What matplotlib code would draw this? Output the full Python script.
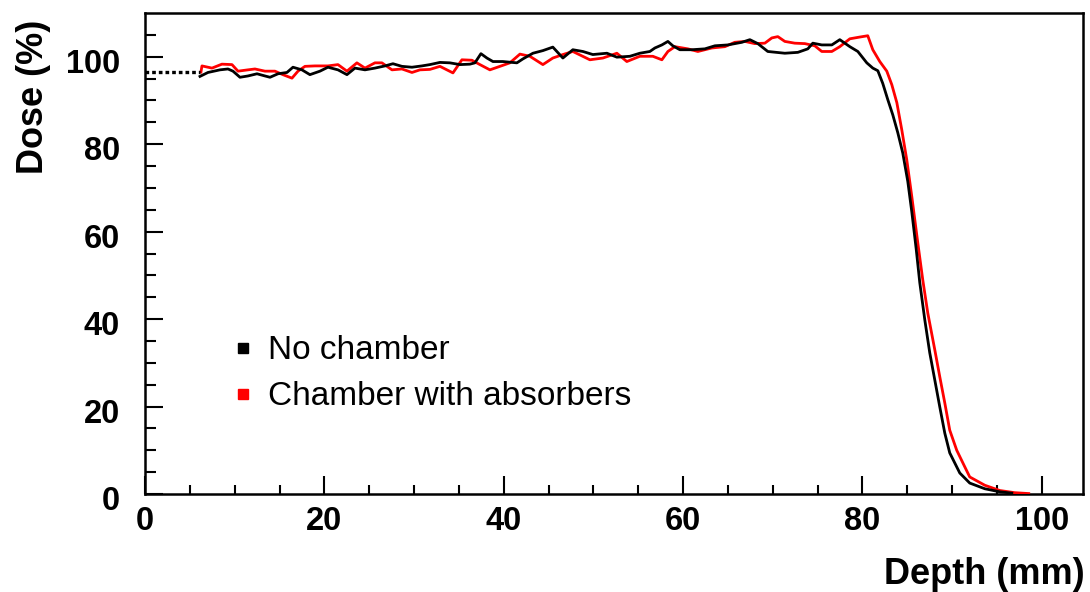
import matplotlib
matplotlib.use("Agg")
import matplotlib.pyplot as plt
import matplotlib.transforms as mtransforms
from matplotlib.lines import Line2D

# depth-dose curves, depth in mm, dose in %
depth_nc = [6.13, 7.02, 8.36, 9.25, 9.81, 10.59, 11.48, 12.49, 13.38, 13.94,
            14.83, 15.83, 16.50, 17.50, 18.39, 19.51, 20.40, 21.52, 22.52, 23.41,
            24.53, 25.64, 26.76, 27.65, 28.65, 29.77, 30.88, 31.77, 32.89, 34.00,
            35.12, 36.23, 36.79, 37.46, 38.13, 38.80, 39.91, 41.47, 42.14, 43.26,
            44.37, 45.48, 46.60, 47.71, 48.83, 49.94, 51.51, 52.62, 54.07, 55.18,
            56.30, 56.86, 57.64, 58.31, 58.86, 59.64, 60.98, 62.43, 63.55, 65.00,
            66.56, 67.45, 68.34, 69.45, 71.35, 72.80, 73.91, 74.47, 75.47, 76.59,
            77.48, 78.60, 79.49, 80.49, 81.16, 81.72, 82.27, 82.83, 83.39, 83.95,
            84.50, 85.06, 85.51, 86.00, 86.40, 86.96, 87.51, 88.07, 88.63, 89.19,
            89.74, 90.86, 91.97, 93.65, 95.32, 96.66]
dose_nc = [95.5, 96.4, 97.0, 97.2, 96.7, 95.3, 95.6, 96.1, 95.6, 95.3,
           96.1, 96.4, 97.6, 97.0, 95.9, 96.7, 97.6, 97.0, 95.9, 97.4,
           97.0, 97.4, 97.9, 98.4, 97.8, 97.6, 97.9, 98.2, 98.7, 98.6,
           98.2, 98.3, 98.6, 100.7, 99.7, 98.9, 98.9, 98.6, 99.5, 100.8,
           101.4, 102.2, 99.7, 101.6, 101.2, 100.5, 100.8, 99.9, 100.1, 100.8,
           101.2, 102.0, 102.7, 103.5, 102.5, 101.6, 101.6, 101.8, 102.5, 102.7,
           103.3, 103.9, 103.0, 101.2, 100.8, 101.0, 101.8, 103.1, 102.7, 102.7,
           103.9, 102.3, 101.2, 98.6, 97.4, 96.8, 93.9, 90.2, 86.7, 82.6,
           78.0, 71.5, 64.5, 56.0, 48.3, 39.8, 32.3, 26.1, 19.9, 13.9,
           9.4, 4.8, 2.5, 1.2, 0.5, 0.2]

depth_ch = [6.24, 6.35, 7.47, 8.58, 9.70, 10.37, 11.48, 12.26, 13.38, 14.49,
            15.38, 16.39, 17.06, 17.84, 18.95, 20.40, 21.52, 22.52, 23.63, 24.53,
            25.64, 26.42, 27.54, 28.65, 29.77, 30.66, 31.77, 32.89, 34.34, 35.34,
            36.45, 37.35, 38.46, 39.58, 40.69, 41.81, 42.92, 44.37, 45.48, 46.60,
            47.71, 49.61, 51.06, 52.62, 53.73, 55.18, 56.63, 57.64, 58.31, 59.09,
            60.54, 61.65, 63.21, 64.66, 65.77, 66.89, 68.00, 69.12, 69.90, 70.57,
            71.35, 72.46, 73.58, 74.69, 75.47, 76.59, 77.48, 78.60, 79.71, 80.60,
            81.16, 81.94, 82.72, 83.28, 83.84, 84.39, 84.95, 85.51, 86.18, 86.73,
            87.29, 88.07, 88.63, 89.19, 89.74, 90.52, 91.42, 91.97, 93.65, 95.32,
            96.99, 98.55]
dose_ch = [96.5, 97.9, 97.4, 98.3, 98.2, 96.7, 97.0, 97.2, 96.7, 96.7,
           95.9, 95.1, 96.7, 97.8, 97.9, 97.9, 98.2, 96.7, 98.6, 97.4,
           98.6, 98.6, 97.0, 97.2, 96.4, 97.0, 97.1, 97.8, 96.3, 99.3,
           99.2, 98.2, 97.0, 97.8, 98.6, 100.6, 100.1, 98.2, 99.7, 100.5,
           101.2, 99.3, 99.7, 100.8, 98.9, 100.1, 100.1, 99.3, 101.2, 102.3,
           101.8, 101.2, 102.0, 102.3, 103.3, 103.5, 103.0, 103.1, 104.3, 104.6,
           103.5, 103.1, 103.0, 102.5, 101.2, 101.2, 102.3, 104.1, 104.5, 104.8,
           101.6, 98.9, 96.7, 93.6, 89.5, 83.3, 76.4, 68.0, 57.4, 49.0,
           41.4, 33.0, 26.8, 20.8, 14.6, 10.0, 6.2, 3.9, 2.0, 0.8,
           0.3, 0.1]

# extrapolation of the entrance dose back to the surface
depth_extrap = [0.0, 6.1]
dose_extrap = [96.6, 96.6]

labels = ["No chamber", "Chamber with absorbers"]
colors = ["black", "#ff0000"]

fig = plt.figure(figsize=(10.9, 5.92), dpi=100)
ax = fig.add_axes([145 / 1090, 98 / 592, 938 / 1090, 481 / 592])

ax.plot(depth_ch, dose_ch, color=colors[1], lw=2.0, zorder=3)
ax.plot(depth_nc, dose_nc, color=colors[0], lw=2.0, zorder=4)
ax.plot(depth_extrap, dose_extrap, color="black", lw=2.4,
        linestyle=(0, (1.1, 0.9)), zorder=4)

ax.set_xlim(0, 104.6)
ax.set_ylim(0, 110)

ax.set_xticks([0, 20, 40, 60, 80, 100])
ax.set_xticks(range(0, 105, 5), minor=True)
ax.set_yticks([0, 20, 40, 60, 80, 100])
ax.set_yticks(range(0, 110, 5), minor=True)

tick_font = dict(family="Liberation Sans", weight="bold", size=23.5)
ax.set_xticklabels(["0", "20", "40", "60", "80", "100"], fontdict=tick_font)
ax.set_yticklabels(["0", "20", "40", "60", "80", "100"], fontdict=tick_font)

ax.tick_params(axis="both", which="both", direction="in", width=1.5,
               top=False, right=False)
ax.tick_params(axis="x", which="major", length=13, pad=9)
ax.tick_params(axis="x", which="minor", length=6.5)
ax.tick_params(axis="y", which="major", length=13, pad=18)
ax.tick_params(axis="y", which="minor", length=8)

# nudge y tick labels slightly downward
shift = mtransforms.ScaledTranslation(0, -0.04, fig.dpi_scale_trans)
for lab in ax.get_yticklabels():
    lab.set_transform(lab.get_transform() + shift)

for sp in ax.spines.values():
    sp.set_linewidth(1.8)

label_font = dict(family="Liberation Sans", weight="bold", size=26)
ax.set_xlabel("Depth (mm)", fontdict=label_font, loc="right")
ax.xaxis.set_label_coords(1.002, -0.131)
ax.set_ylabel("Dose (%)", fontdict=label_font, loc="top")
ax.yaxis.set_label_coords(-0.1005, 0.985)

handles = [Line2D([], [], marker="s", ls="none", color=c, markersize=7)
           for c in colors]
ax.legend(handles, labels, loc="center left", bbox_to_anchor=(0.0938, 0.2495),
          frameon=False, borderaxespad=0, borderpad=0, handlelength=0.6,
          handletextpad=0.45, labelspacing=0.45,
          prop=dict(family="Liberation Sans", size=24))

fig.savefig("out.png", dpi=100)
